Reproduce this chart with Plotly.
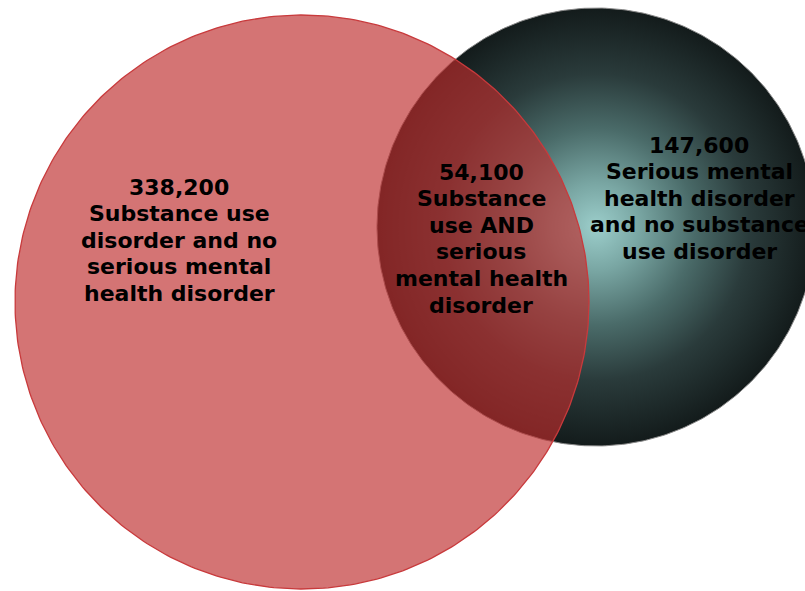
import numpy as np
import plotly.graph_objects as go

# ---- data ----
region_names = ["substance_only", "both", "mental_only"]
region_counts = [338200, 54100, 147600]
region_labels = [
    "Substance use\ndisorder and no\nserious mental\nhealth disorder",
    "Substance\nuse AND\nserious\nmental health\ndisorder",
    "Serious mental\nhealth disorder\nand no substance\nuse disorder",
]

# ---- layout geometry (pixel-like units of the 805x591 canvas) ----
W, H = 805, 591
red_center, red_r = (302, 302), 287
dark_center, dark_r = (596, 227), 219
label_x = [179, 481, 699]
label_top = [187, 172, 145]
line_step = 26.6
font_size = 22


def circle(c, r, n=400):
    t = np.linspace(0, 2 * np.pi, n)
    return c[0] + r * np.cos(t), c[1] + r * np.sin(t)


fig = go.Figure()

dx, dy = circle(dark_center, dark_r)
fig.add_trace(go.Scatter(
    x=dx, y=dy, mode="lines", fill="toself",
    line=dict(color="#8a8a8a", width=1),
    fillgradient=dict(
        type="radial",
        colorscale=[[0, "#9ccecb"], [0.2, "#79a6a3"], [0.45, "#4a6b69"],
                    [0.7, "#2a3b3b"], [1, "#131b1b"]],
    ),
    hoverinfo="skip", showlegend=False,
))

rx, ry = circle(red_center, red_r)
fig.add_trace(go.Scatter(
    x=rx, y=ry, mode="lines", fill="toself",
    fillcolor="rgba(190,44,44,0.66)",
    line=dict(color="#c83a3c", width=1.3),
    hoverinfo="skip", showlegend=False,
))

for lx, ly, cnt, lab in zip(label_x, label_top, region_counts, region_labels):
    lines = [f"{cnt:,}"] + lab.split("\n")
    for i, s in enumerate(lines):
        fig.add_annotation(
            x=lx, y=ly + i * line_step, xref="x", yref="y",
            text=s, showarrow=False,
            xanchor="center", yanchor="middle", align="center",
            font=dict(family="DejaVu Sans", size=font_size, color="black",
                      weight="bold"),
        )

fig.update_layout(
    width=W, height=H,
    margin=dict(l=0, r=0, t=0, b=0),
    paper_bgcolor="white", plot_bgcolor="white",
    xaxis=dict(range=[0, W], visible=False, fixedrange=True),
    yaxis=dict(range=[H, 0], visible=False, fixedrange=True),
)

fig.write_html(
    "out.html",
    config={"displayModeBar": False},
    post_script="document.body.style.margin='0';document.body.style.overflow='hidden';",
)
